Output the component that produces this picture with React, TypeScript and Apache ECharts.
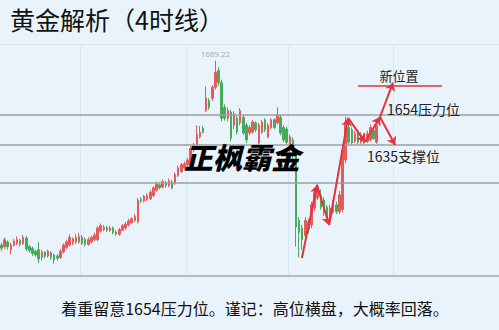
import { useEffect, useRef } from "react";
import * as echarts from "echarts";

// 4-hour gold candles (open / close / low / high)
const opens = [
  1570, 1569, 1572, 1567, 1570, 1571, 1573, 1571, 1574.5, 1569,
  1568, 1566, 1567, 1562, 1565.5, 1563, 1565, 1563.5, 1563, 1562,
  1565.5, 1568.5, 1570, 1571.5, 1575, 1572, 1575, 1573.5, 1570.5, 1572,
  1573.5, 1573.5, 1579, 1580, 1581.5, 1579.5, 1581, 1578.5, 1577, 1579.5,
  1581, 1583, 1584.5, 1586, 1585, 1599.5, 1598.5, 1599.5, 1600, 1602,
  1605.5, 1609, 1607.5, 1610, 1608.5, 1611, 1610, 1615, 1617.5, 1620,
  1622, 1622, 1631.5, 1633, 1640, 1645.5, 1657, 1663.5, 1665, 1672,
  1683, 1675, 1659, 1652, 1656, 1647.5, 1652, 1649, 1652.5, 1647.5,
  1642.5, 1643, 1649, 1636, 1643, 1651, 1640, 1646, 1651, 1649,
  1652.5, 1646, 1645, 1631.5, 1638, 1629.5, 1586, 1581, 1576, 1585,
  1583, 1594, 1600.5, 1602, 1599, 1594.5, 1587.5, 1591.5, 1596, 1591.5,
  1593, 1625, 1646, 1644.5, 1637.5, 1643, 1636.5, 1641, 1637, 1638,
  1644, 1636.5,
];
const closes = [
  1568, 1573.5, 1569, 1570, 1572.5, 1573.5, 1570.5, 1575, 1567.5, 1566.5,
  1564.5, 1563.5, 1561, 1565.5, 1563, 1566, 1562, 1560.5, 1561.5, 1566,
  1570, 1572, 1575, 1574, 1572, 1575.5, 1571, 1570.5, 1573.5, 1575,
  1576.5, 1581, 1582.5, 1581.5, 1579.5, 1581, 1578, 1577, 1580, 1582.5,
  1583.5, 1585.5, 1587, 1588.5, 1599, 1598.5, 1601.5, 1602, 1604, 1607,
  1609.5, 1607, 1611, 1608.5, 1611.5, 1607, 1615.5, 1620, 1622, 1622.5,
  1625, 1632.5, 1634.5, 1641.5, 1643, 1643, 1665, 1659, 1672, 1681.7,
  1675, 1652, 1652, 1657, 1639, 1655, 1643, 1657, 1642.5, 1638,
  1646, 1649.5, 1644.5, 1647.5, 1649.5, 1644.5, 1647.5, 1651, 1646, 1654,
  1642.5, 1638, 1636.5, 1640, 1628, 1581.7, 1578, 1573.5, 1586, 1580,
  1596, 1604, 1607, 1594.5, 1591, 1586.5, 1594, 1597.5, 1591.5, 1602.5,
  1631.5, 1649, 1636.5, 1636, 1642, 1636.5, 1641, 1636, 1642, 1646,
  1639, 1647.5,
];
const lows = [
  1566, 1567.5, 1567, 1564, 1569, 1570, 1569, 1570, 1566, 1565,
  1563, 1562.5, 1558.5, 1560, 1561.5, 1562, 1560.5, 1558, 1560, 1561,
  1564.5, 1567.5, 1569, 1570, 1570.5, 1571, 1570, 1569, 1569.5, 1571,
  1572.5, 1572.5, 1578, 1579, 1578.5, 1578.5, 1577, 1576, 1576, 1579,
  1580, 1582, 1583.5, 1585, 1584, 1597, 1597.5, 1598.5, 1599, 1601,
  1604.5, 1606, 1606.5, 1607, 1607.5, 1606, 1609, 1614, 1616.5, 1619,
  1621, 1621, 1630, 1632, 1639, 1642, 1656, 1657.5, 1663, 1670.5,
  1673, 1650, 1650.5, 1650, 1637, 1645, 1641.5, 1647.5, 1641, 1636,
  1641, 1642, 1643, 1634.5, 1642, 1643, 1639, 1645, 1645, 1648,
  1641, 1636.5, 1635, 1630, 1626, 1569, 1562, 1567, 1574, 1577.5,
  1581, 1592, 1599, 1593, 1589, 1584, 1585, 1590, 1590, 1590,
  1591, 1623, 1635, 1634.5, 1636, 1635, 1635.5, 1634.5, 1636, 1637,
  1638, 1635.5,
];
const highs = [
  1571.5, 1575, 1573, 1571.5, 1574, 1575.5, 1574, 1576.5, 1576, 1570,
  1569, 1567, 1572, 1567, 1566, 1567, 1566, 1564.5, 1564, 1567.5,
  1571, 1573.5, 1577, 1575, 1577, 1578, 1576.5, 1575, 1575, 1576,
  1578, 1582.5, 1584, 1583, 1582.5, 1582.5, 1582, 1579.5, 1581, 1583.5,
  1585, 1587, 1588, 1590, 1600.5, 1601, 1602.5, 1603.5, 1605.5, 1608,
  1611, 1610, 1612.5, 1611.5, 1613, 1612, 1617, 1621.5, 1623, 1624,
  1626.5, 1634, 1636, 1647.5, 1647, 1647, 1672.5, 1665, 1673.5, 1689.22,
  1685, 1677, 1661, 1659, 1657.5, 1656.5, 1653.5, 1658.5, 1654, 1649,
  1647.5, 1651, 1650, 1649, 1651, 1652, 1649, 1652, 1652, 1659,
  1654, 1647.5, 1646.5, 1641.5, 1639.5, 1631, 1588, 1583, 1588, 1587,
  1598, 1606, 1610, 1606, 1601, 1596, 1596, 1599, 1598, 1605,
  1634, 1653, 1652, 1646, 1644, 1644.5, 1643, 1642.5, 1644, 1648,
  1645.5, 1649,
];

// Total time slots on the axis (the right part is left empty for the outlook)
const SLOT_COUNT = 161;
const slotLabels = opens.map((_, i) => `K${i + 1}`);
while (slotLabels.length < SLOT_COUNT) slotLabels.push(`F${slotLabels.length + 1}`);

// Horizontal price levels
const levelLines = [1654, 1635, 1610];
const topLevel = 1700;

// Red outlook arrows: [slot, price] from -> to
const arrowSegments = [
  [[96.9, 1561.6], [101.8, 1608.8]],
  [[101.8, 1608.8], [105.7, 1583.0]],
  [[105.7, 1583.0], [111.8, 1652.2]],
  [[111.8, 1652.2], [117.3, 1636.6]],
  [[117.3, 1636.6], [122.1, 1652.8]],
  [[122.1, 1652.8], [126.3, 1675.0]],
  [[122.1, 1652.8], [127.0, 1634.7]],
];
// Target line under "新位置"
const targetLine = [[115.0, 1673.0], [142.1, 1673.0]];

const BG = "#e9f3fc";
const RED = "#e2343c";
const UP = "#e55b5b";
const DOWN = "#48ab5a";
const CJK = "'Noto Sans CJK SC', 'Noto Sans', sans-serif";

export default function App() {
  const ref = useRef<HTMLDivElement>(null);

  useEffect(() => {
    if (!ref.current) return;
    const chart = echarts.init(ref.current, undefined, { renderer: "svg" });
    const candles = opens.map((o, i) => [o, closes[i], lows[i], highs[i]]);

    chart.setOption({
      animation: false,
      backgroundColor: BG,
      grid: { left: 0, right: 0, top: 44, bottom: 54 },
      xAxis: [
        {
          type: "category",
          data: slotLabels,
          boundaryGap: true,
          axisLine: { show: true, lineStyle: { color: "#a3a7ab", width: 1.6 } },
          axisTick: { show: false },
          axisLabel: { show: false },
          splitLine: {
            show: true,
            interval: (idx: number) => idx === 26 || idx === 60 || idx === 93 || idx === 127,
            lineStyle: { color: "#dae6f1", width: 1 },
          },
        },
        { type: "value", min: -0.5, max: SLOT_COUNT - 0.5, show: false },
      ],
      yAxis: {
        type: "value",
        min: 1550,
        max: 1700,
        show: false,
        splitLine: { show: false },
      },
      series: [
        {
          type: "candlestick",
          data: candles,
          barWidth: 2,
          itemStyle: {
            color: UP,
            color0: DOWN,
            borderColor: UP,
            borderColor0: DOWN,
            borderWidth: 1,
          },
          markLine: {
            silent: true,
            symbol: ["none", "none"],
            label: { show: false },
            data: [
              ...levelLines.map((v) => ({
                yAxis: v,
                lineStyle: { color: "#9b9fa3", width: 1.6, type: "solid" },
              })),
              { yAxis: topLevel, lineStyle: { color: "#dae6f1", width: 1, type: "solid" } },
            ],
          },
          markPoint: {
            symbol: "circle",
            symbolSize: 0,
            data: [{ type: "max", valueDim: "highest", name: "peak" }],
            label: {
              show: true,
              position: "top",
              distance: 3,
              color: "#a7acb3",
              fontSize: 8,
              fontFamily: "'Open Sans', sans-serif",
              formatter: (p: any) => Number(p.value).toFixed(2),
            },
          },
        },
        {
          type: "lines",
          coordinateSystem: "cartesian2d",
          xAxisIndex: 1,
          yAxisIndex: 0,
          z: 5,
          symbol: ["none", "arrow"],
          symbolSize: 8,
          lineStyle: { color: RED, width: 2, opacity: 1, curveness: 0 },
          data: arrowSegments.map((seg) => ({ coords: seg })),
        },
        {
          type: "lines",
          coordinateSystem: "cartesian2d",
          xAxisIndex: 1,
          yAxisIndex: 0,
          z: 5,
          symbol: ["none", "none"],
          lineStyle: { color: RED, width: 1.6, opacity: 1, curveness: 0 },
          data: [{ coords: targetLine }],
        },
      ],
      graphic: [
        {
          type: "text",
          x: 10,
          y: 6,
          z: 10,
          style: {
            text: "黄金解析（4时线）",
            fontSize: 25,
            fontFamily: CJK,
            fill: "#111",
          },
        },
        {
          type: "text",
          x: 184,
          y: 141,
          z: 10,
          style: {
            text: "正枫霸金",
            fontSize: 29,
            fontWeight: 900,
            fontStyle: "italic",
            fontFamily: CJK,
            fill: "#000",
          },
        },
        {
          type: "text",
          x: 399,
          y: 75,
          z: 10,
          style: {
            text: "新位置",
            fontSize: 13,
            fontFamily: CJK,
            fill: "#222",
            align: "center",
            verticalAlign: "middle",
            textAlign: "center",
            textVerticalAlign: "middle",
          },
        },
        {
          type: "text",
          x: 387,
          y: 109,
          z: 10,
          style: {
            text: "1654压力位",
            fontSize: 14,
            fontFamily: CJK,
            fill: "#222",
            verticalAlign: "middle",
            textVerticalAlign: "middle",
          },
        },
        {
          type: "text",
          x: 367,
          y: 156,
          z: 10,
          style: {
            text: "1635支撑位",
            fontSize: 14,
            fontFamily: CJK,
            fill: "#222",
            verticalAlign: "middle",
            textVerticalAlign: "middle",
          },
        },
        {
          type: "text",
          x: 255,
          y: 308,
          z: 10,
          style: {
            text: "着重留意1654压力位。谨记：高位横盘，大概率回落。",
            fontSize: 16,
            fontFamily: CJK,
            fill: "#111",
            align: "center",
            verticalAlign: "middle",
            textAlign: "center",
            textVerticalAlign: "middle",
          },
        },
      ],
    });

    return () => chart.dispose();
  }, []);

  return (
    <div
      ref={ref}
      style={{ position: "absolute", left: 0, top: 0, width: 499, height: 330, background: BG }}
    />
  );
}
